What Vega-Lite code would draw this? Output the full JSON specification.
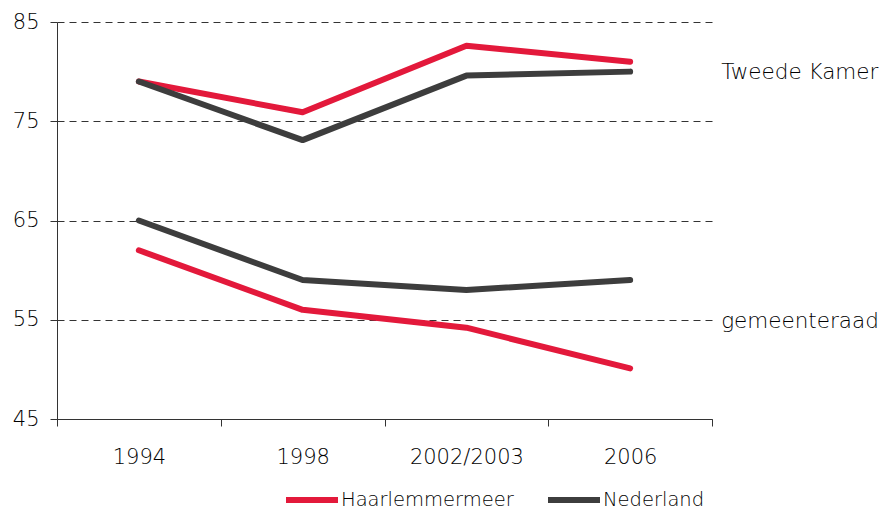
{
  "$schema": "https://vega.github.io/schema/vega-lite/v6.json",
  "autosize": {"type": "none"},
  "width": 655,
  "height": 397,
  "padding": {"left": 57, "top": 22, "right": 176, "bottom": 95},
  "background": "white",
  "config": {
    "view": {"stroke": null},
    "font": "DejaVu Sans",
    "axis": {"labelFont": "DejaVu Sans", "labelFontWeight": 200, "labelColor": "#000", "labelFontSize": 21, "domainColor": "#333", "tickColor": "#333", "title": null},
    "legend": {"labelFont": "DejaVu Sans", "labelFontWeight": 200, "labelLimit": 400}
  },
  "layer": [
    {
      "data": {"values": [
        {"year": "1994", "reeks": "Haarlemmermeer", "orgaan": "Tweede Kamer", "value": 79.0},
        {"year": "1998", "reeks": "Haarlemmermeer", "orgaan": "Tweede Kamer", "value": 75.9},
        {"year": "2002/2003", "reeks": "Haarlemmermeer", "orgaan": "Tweede Kamer", "value": 82.6},
        {"year": "2006", "reeks": "Haarlemmermeer", "orgaan": "Tweede Kamer", "value": 81.0},
        {"year": "1994", "reeks": "Haarlemmermeer", "orgaan": "gemeenteraad", "value": 62.0},
        {"year": "1998", "reeks": "Haarlemmermeer", "orgaan": "gemeenteraad", "value": 56.0},
        {"year": "2002/2003", "reeks": "Haarlemmermeer", "orgaan": "gemeenteraad", "value": 54.2},
        {"year": "2006", "reeks": "Haarlemmermeer", "orgaan": "gemeenteraad", "value": 50.1},
        {"year": "1994", "reeks": "Nederland", "orgaan": "Tweede Kamer", "value": 79.0},
        {"year": "1998", "reeks": "Nederland", "orgaan": "Tweede Kamer", "value": 73.1},
        {"year": "2002/2003", "reeks": "Nederland", "orgaan": "Tweede Kamer", "value": 79.6},
        {"year": "2006", "reeks": "Nederland", "orgaan": "Tweede Kamer", "value": 80.0},
        {"year": "1994", "reeks": "Nederland", "orgaan": "gemeenteraad", "value": 65.0},
        {"year": "1998", "reeks": "Nederland", "orgaan": "gemeenteraad", "value": 59.0},
        {"year": "2002/2003", "reeks": "Nederland", "orgaan": "gemeenteraad", "value": 58.0},
        {"year": "2006", "reeks": "Nederland", "orgaan": "gemeenteraad", "value": 59.0}
      ]},
      "mark": {"type": "line", "strokeWidth": 6, "strokeCap": "round", "strokeJoin": "round"},
      "encoding": {
        "x": {
          "field": "year", "type": "ordinal", "sort": null,
          "scale": {"type": "band", "paddingInner": 0, "paddingOuter": 0},
          "axis": {"labelAngle": 0, "tickBand": "extent", "tickSize": 7, "labelPadding": 20, "grid": false, "domainWidth": 1}
        },
        "y": {
          "field": "value", "type": "quantitative",
          "scale": {"domain": [45, 85], "nice": false, "zero": false},
          "axis": {"values": [45, 55, 65, 75, 85], "tickSize": 7, "labelPadding": 11, "grid": true, "gridDash": [7, 5], "gridColor": "#333", "gridWidth": 1}
        },
        "color": {
          "field": "reeks", "type": "nominal",
          "scale": {"domain": ["Haarlemmermeer", "Nederland"], "range": ["#e3193b", "#3d3d3d"]},
          "legend": {"title": null, "orient": "none", "direction": "horizontal", "legendX": 226, "legendY": 449, "symbolType": "stroke", "symbolStrokeWidth": 6, "symbolSize": 2704, "labelFontSize": 19.5, "labelColor": "#000", "labelOffset": 0, "columnPadding": 22}
        },
        "detail": {"field": "orgaan"}
      }
    },
    {
      "data": {"values": [
        {"label": "Tweede Kamer", "year": "2006", "value": 79.9},
        {"label": "gemeenteraad", "year": "2006", "value": 54.8}
      ]},
      "mark": {"type": "text", "align": "left", "baseline": "middle", "dx": 91, "fontSize": 21.5, "font": "DejaVu Sans", "fontWeight": 200, "color": "#000"},
      "encoding": {
        "x": {"field": "year", "type": "ordinal", "sort": null},
        "y": {"field": "value", "type": "quantitative"},
        "text": {"field": "label"}
      }
    }
  ]
}
